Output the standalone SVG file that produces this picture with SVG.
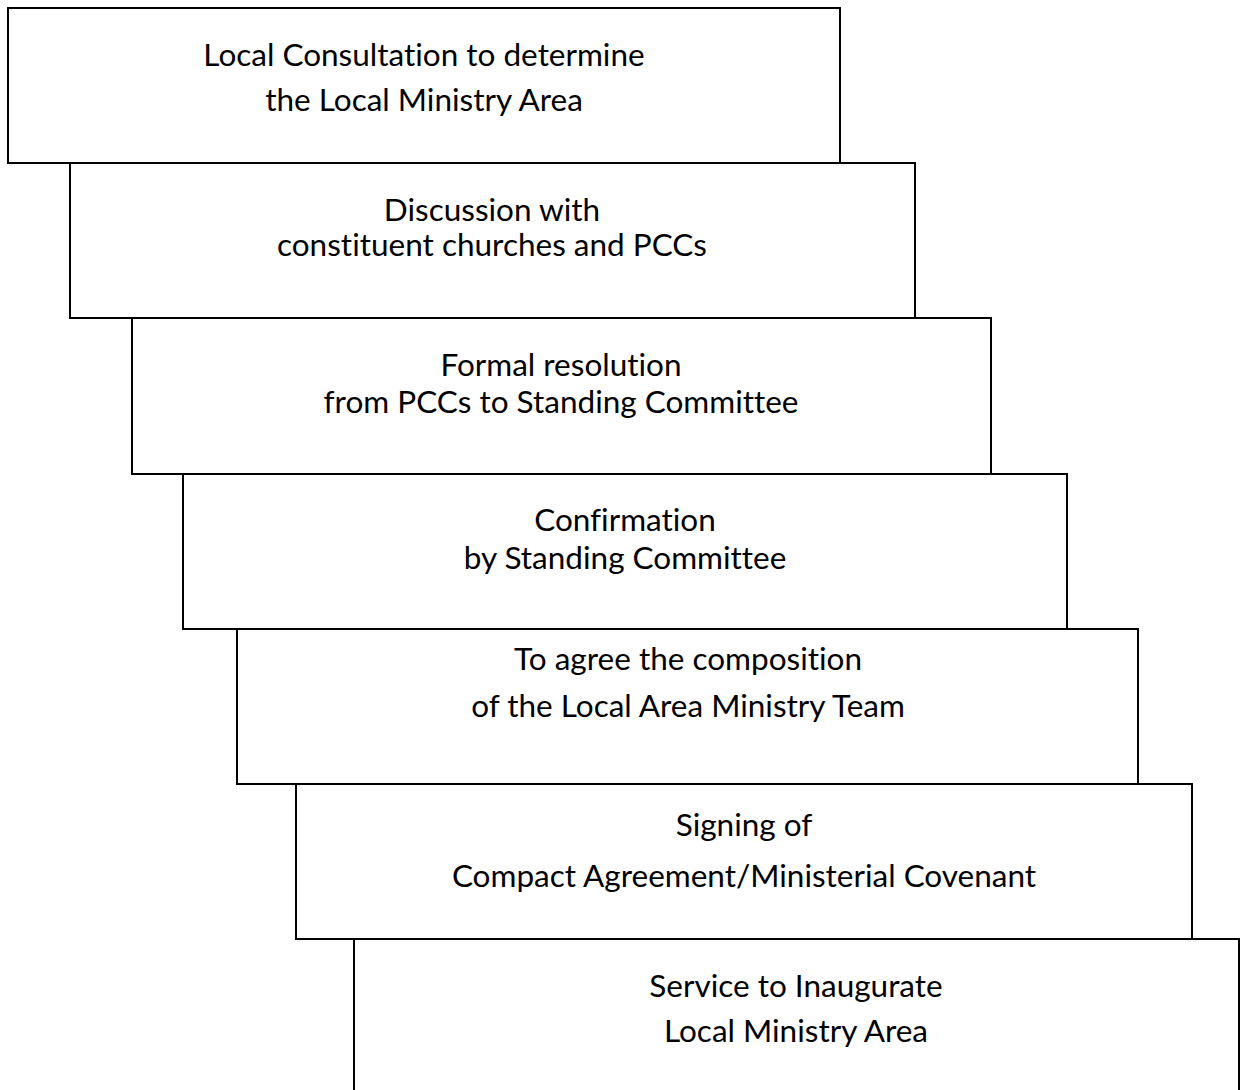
<svg xmlns="http://www.w3.org/2000/svg" width="1249" height="1090" viewBox="0 0 1249 1090">
<style>
.box{fill:#fff;stroke:#000;stroke-width:2}
text{font-family:Lato,"Liberation Sans",sans-serif;font-size:31.5px;fill:#000;text-anchor:middle;font-variant-ligatures:none;font-feature-settings:"liga" 0}
</style>
<rect width="1249" height="1090" fill="#fff"/>
<g id="n1"><rect class="box" x="8" y="8" width="832" height="155"/>
<text x="424" y="66">Local Consultation to determine</text><text x="424" y="111">the Local Ministry Area</text></g>
<g id="n2"><rect class="box" x="70" y="163" width="845" height="155"/>
<text x="492" y="221">Discussion with</text><text x="492" y="256">constituent churches and PCCs</text></g>
<g id="n3"><rect class="box" x="132" y="318" width="859" height="156"/>
<text x="561" y="376">Formal resolution</text><text x="561" y="413">from PCCs to Standing Committee</text></g>
<g id="n4"><rect class="box" x="183" y="474" width="884" height="155"/>
<text x="625" y="531">Confirmation</text><text x="625" y="569">by Standing Committee</text></g>
<g id="n5"><rect class="box" x="237" y="629" width="901" height="155"/>
<text x="688" y="670">To agree the composition</text><text x="688" y="717">of the Local Area Ministry Team</text></g>
<g id="n6"><rect class="box" x="296" y="784" width="896" height="155"/>
<text x="744" y="836">Signing of</text><text x="744" y="887">Compact Agreement/Ministerial Covenant</text></g>
<g id="n7"><rect class="box" x="354" y="939" width="885" height="160"/>
<text x="796" y="997">Service to Inaugurate</text><text x="796" y="1042">Local Ministry Area</text></g>
<g id="connectors"></g>
</svg>
